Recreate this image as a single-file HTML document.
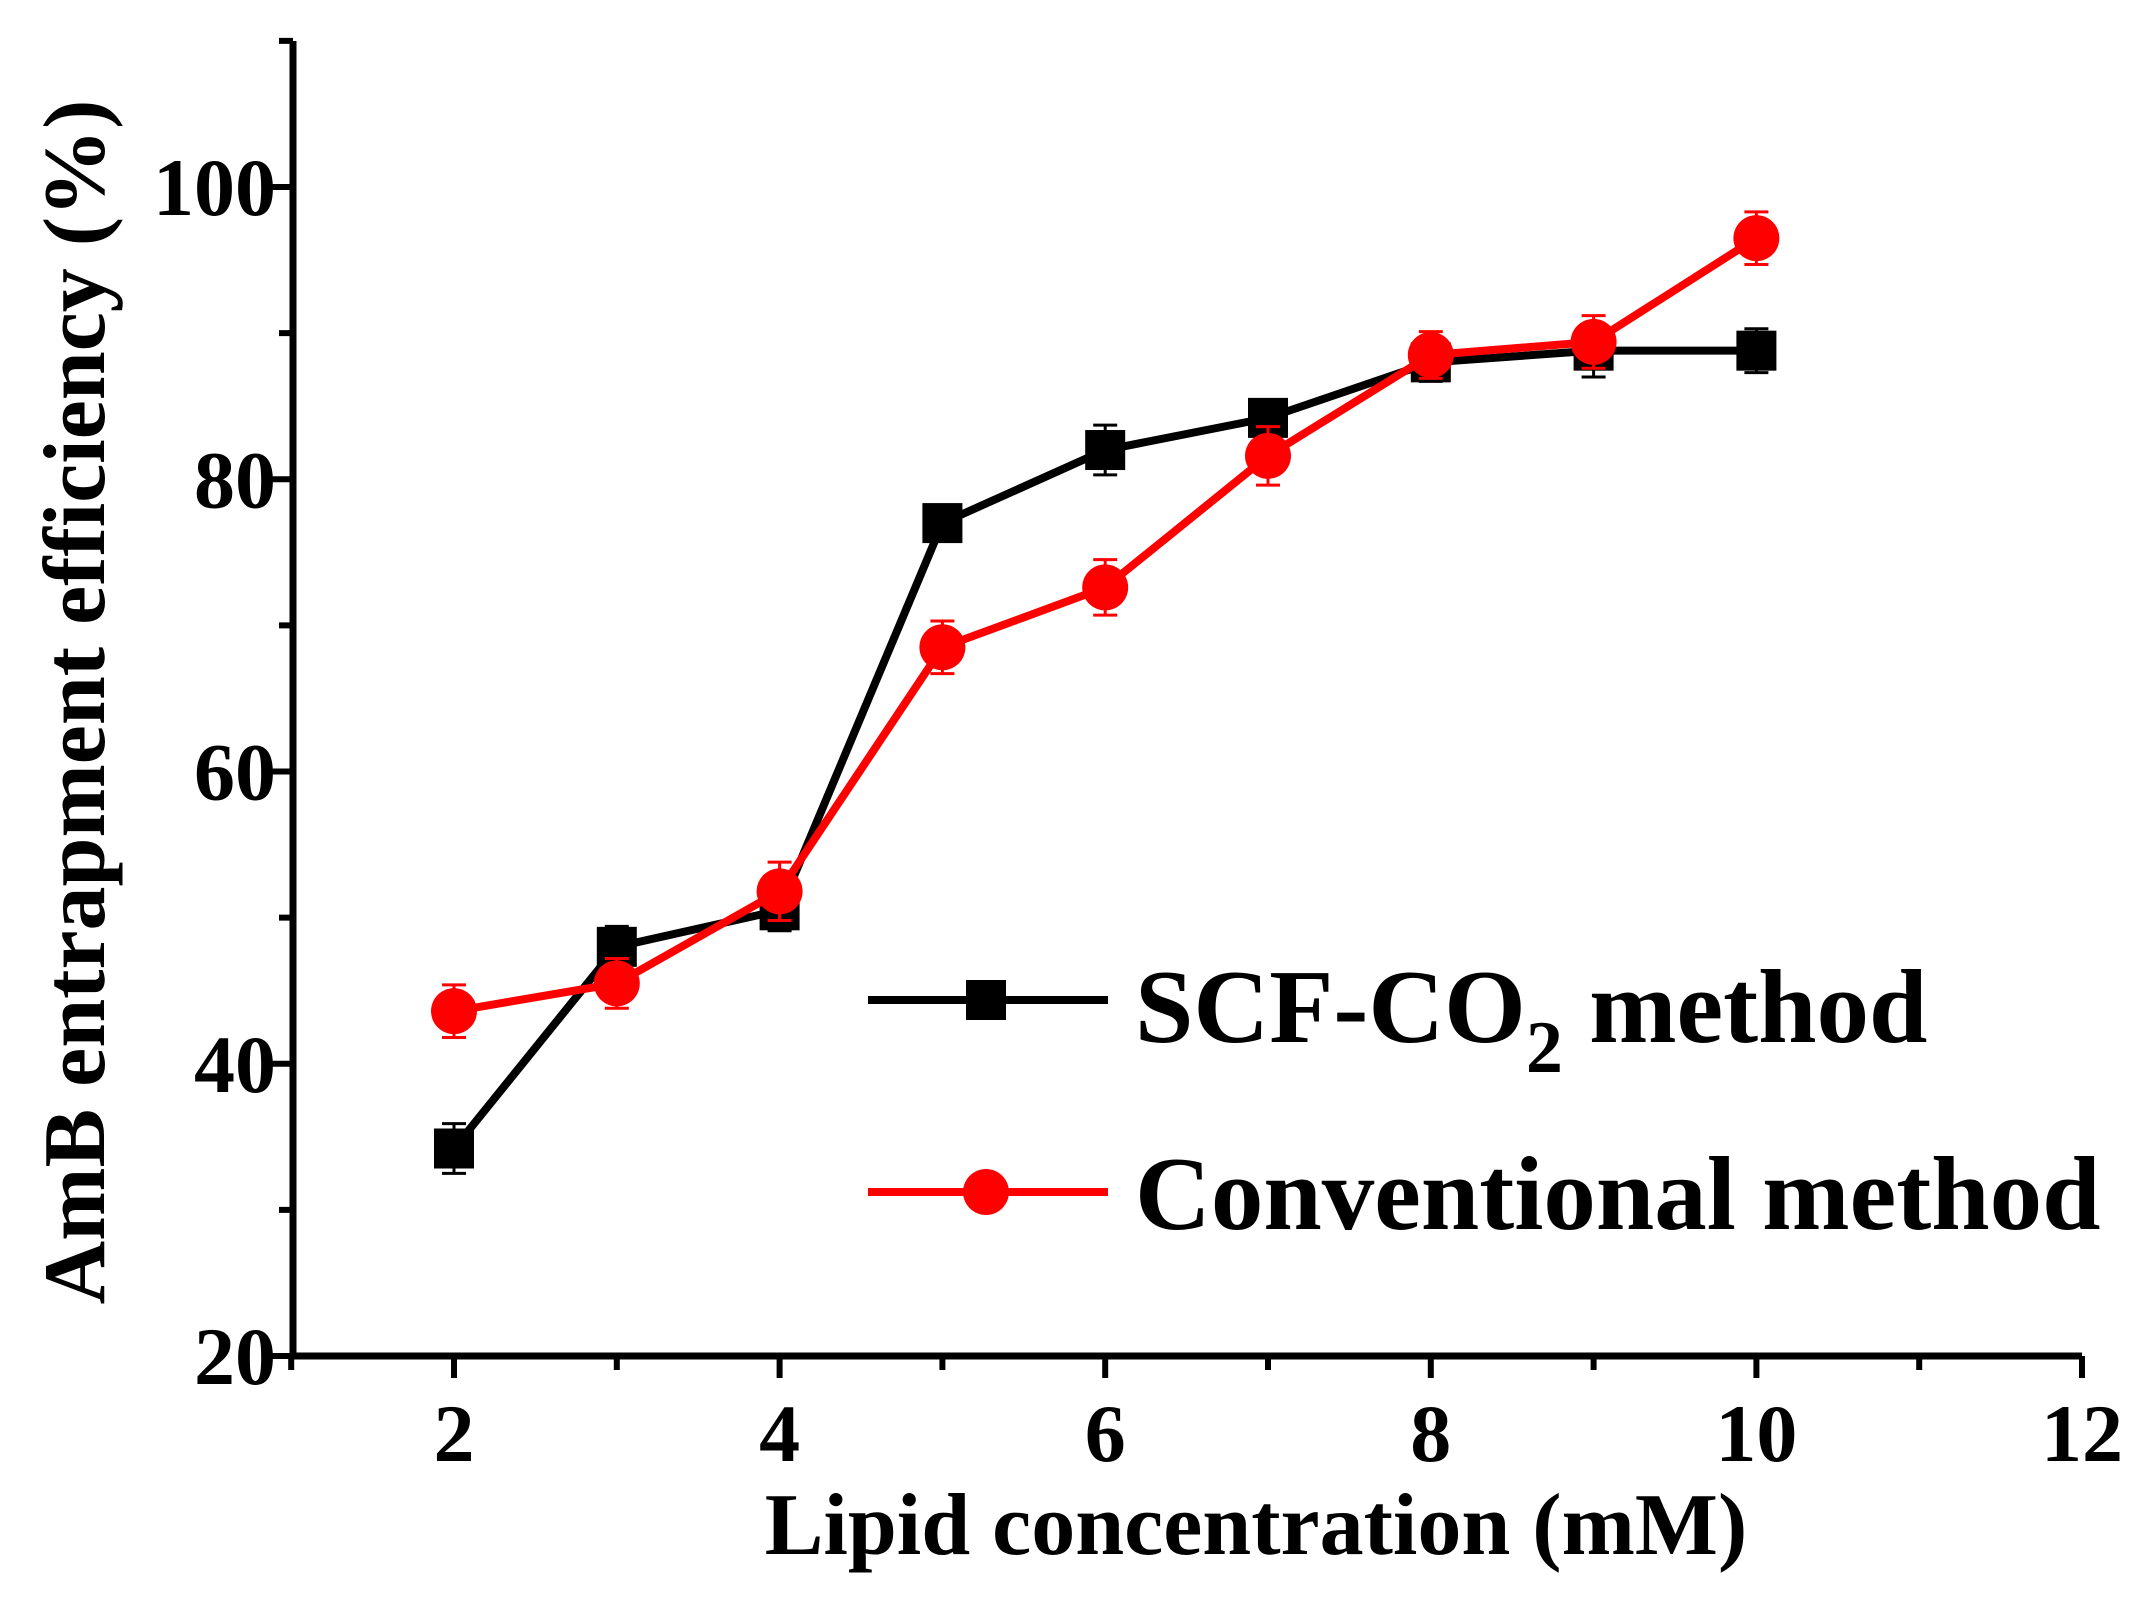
<!DOCTYPE html>
<html><head><meta charset="utf-8"><style>
html,body{margin:0;padding:0;background:#fff;}
svg{display:block;font-family:"Liberation Serif",serif;font-weight:bold;}
</style></head><body>
<svg id="chart" width="2151" height="1607" viewBox="0 0 2151 1607">
<g id="plot"></g>
</svg>
<script>
const xTicks=[2,4,6,8,10,12];
const yTicks=[20,40,60,80,100];
const xCats=[2,3,4,5,6,7,8,9,10];
const scfValues=[34.2,48,50.5,77,82,84.2,88,88.8,88.8];
const scfErrors=[1.7,1.4,1.4,0.9,1.7,1.0,1.3,1.8,1.5];
const convValues=[43.6,45.5,51.8,68.5,72.6,81.6,88.5,89.4,96.5];
const convErrors=[1.8,1.7,2.0,1.8,1.9,2.0,1.6,1.8,1.8];

const NS="http://www.w3.org/2000/svg";
const g=document.getElementById('plot');
const X0=293,XR=2082,Y0=1356,YT=41;
function xs(v){return 454+(v-2)*(XR-454)/10;}
function ys(v){return Y0-(v-20)*(Y0-187)/80;}
function mk(tag,attrs,parent){const e=document.createElementNS(NS,tag);for(const k in attrs)e.setAttribute(k,attrs[k]);(parent||g).appendChild(e);return e;}

let ax=mk('line',{x1:X0,y1:YT,x2:X0,y2:Y0+3,stroke:'#000','stroke-width':7});


ax=mk('line',{x1:X0-3,y1:Y0,x2:XR,y2:Y0,stroke:'#000','stroke-width':7});



for(let v=20;v<=110;v+=10){
  const major=v%20===0;
  const t=mk('line',{x1:X0-(major?22:14),y1:ys(v),x2:X0,y2:ys(v),stroke:'#000','stroke-width':6});
  
  
}
yTicks.forEach(v=>{
  const t=mk('text',{x:276,y:ys(v)+28,'text-anchor':'end','font-size':82});
  t.textContent=v;
  
  
});
for(let v=1;v<=12;v++){
  const major=v%2===0;
  const t=mk('line',{x1:xs(v),y1:Y0,x2:xs(v),y2:Y0+(major?22:14),stroke:'#000','stroke-width':6});
  
  
}
xTicks.forEach(v=>{
  const t=mk('text',{x:xs(v),y:1461,'text-anchor':'middle','font-size':82});
  t.textContent=v;
  
  
});
let tt=mk('text',{x:1256,y:1554,'text-anchor':'middle','font-size':88});
tt.textContent='Lipid concentration (mM)';


tt=mk('text',{x:0,y:0,'text-anchor':'middle','font-size':88,transform:'translate(104,702) rotate(-90)'});
tt.textContent='AmB entrapment efficiency (%)';



function series(vals,errs,color,shape,name){
  const pts=vals.map((v,i)=>xs(xCats[i])+','+ys(v)).join(' ');
  const pl=mk('polyline',{points:pts,fill:'none',stroke:color,'stroke-width':8,'stroke-linejoin':'round'});
  
  
  vals.forEach((v,i)=>{
    const x=xs(xCats[i]);
    const eb=mk('path',{d:`M${x},${ys(v+errs[i])}V${ys(v-errs[i])}M${x-12},${ys(v+errs[i])}H${x+12}M${x-12},${ys(v-errs[i])}H${x+12}`,stroke:color,'stroke-width':3,fill:'none'});
    
    
    let m;
    if(shape==='square') m=mk('rect',{x:x-20,y:ys(v)-20,width:40,height:40,fill:color});
    else m=mk('circle',{cx:x,cy:ys(v),r:23,fill:color});
    
    
  });
}
series(scfValues,scfErrors,'#000','square','scf-co2');
series(convValues,convErrors,'#ff0000','circle','conventional');

let l=mk('line',{x1:868,y1:1000,x2:1108,y2:1000,stroke:'#000','stroke-width':8});


l=mk('rect',{x:966,y:980,width:40,height:40,fill:'#000'});


l=mk('text',{x:1135,y:1042,'font-size':105});
l.innerHTML='SCF-CO<tspan font-size="74" dy="30">2</tspan><tspan dy="-30"> method</tspan>';


l=mk('line',{x1:868,y1:1192,x2:1108,y2:1192,stroke:'#ff0000','stroke-width':8});


l=mk('circle',{cx:986,cy:1192,r:23,fill:'#ff0000'});


l=mk('text',{x:1135,y:1229,'font-size':105});
l.textContent='Conventional method';


</script>
</body></html>
